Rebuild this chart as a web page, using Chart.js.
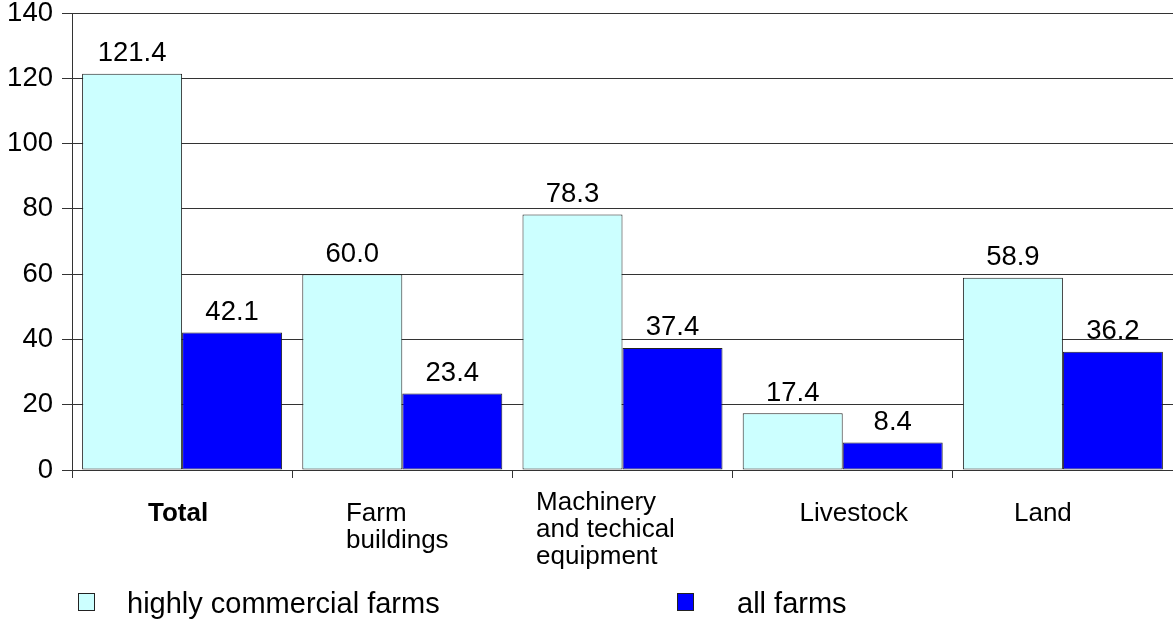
<!DOCTYPE html>
<html>
<head>
<meta charset="utf-8">
<script src="https://cdn.jsdelivr.net/npm/chart.js@4"></script>
<style>
html,body{margin:0;padding:0;background:#fff}
</style>
</head>
<body>
<canvas id="chart" width="1173" height="622"></canvas>
<script>
const categories = [['Total'], ['Farm','buildings'], ['Machinery','and techical','equipment'], ['Livestock'], ['Land']]
const highlyCommercial = [121.4, 60.0, 78.3, 17.4, 58.9]
const allFarms = [42.1, 23.4, 37.4, 8.4, 36.2]
const seriesNames = ['highly commercial farms', 'all farms']
const yMax = 140
const yStep = 20

const FONT = '"Liberation Sans", Arial, sans-serif'
// excel puts the wrapped category text a little off centre
const labelShift = [-4, -5, -17, 11, -20]
const labelLift = [0, 0, 11, 0, 0]
const legendBoxX = [78, 677]
const legendTextX = [127, 737]

const extras = {
  id: 'extras',
  afterDatasetsDraw(chart){
    const ctx = chart.ctx
    const area = chart.chartArea
    const xs = chart.scales.x
    ctx.save()
    ctx.fillStyle = '#000'
    ctx.textBaseline = 'alphabetic'

    // value labels above bars
    ctx.font = `27.5px ${FONT}`
    ctx.textAlign = 'center'
    chart.data.datasets.forEach((ds, di)=>{
      chart.getDatasetMeta(di).data.forEach((bar, i)=>{
        ctx.fillText(ds.data[i].toFixed(1), bar.x, bar.y - 12.5)
      })
    })

    // category labels (lines left aligned in a block)
    ctx.textAlign = 'left'
    categories.forEach((lines, i)=>{
      ctx.font = (i === 0 ? 'bold ' : '') + `26px ${FONT}`
      const w = Math.max(...lines.map(l=>ctx.measureText(l).width))
      const left = xs.getPixelForValue(i) - w/2 + labelShift[i]
      lines.forEach((l, j)=>{
        ctx.fillText(l, left, area.bottom + 51 - labelLift[i] + j*27)
      })
    })

    // legend
    ctx.font = `29px ${FONT}`
    chart.data.datasets.forEach((ds, di)=>{
      const by = chart.height - 29
      ctx.fillStyle = ds.backgroundColor
      ctx.fillRect(legendBoxX[di], by, 17, 18)
      ctx.strokeStyle = '#222'
      ctx.lineWidth = 1
      ctx.strokeRect(legendBoxX[di] + 0.5, by + 0.5, 16, 17)
      ctx.fillStyle = '#000'
      ctx.fillText(ds.label, legendTextX[di], chart.height - 9)
    })
    ctx.restore()
  }
}

new Chart(document.getElementById('chart').getContext('2d'), {
  type: 'bar',
  data: {
    labels: categories,
    datasets: [
      {label: seriesNames[0], data: highlyCommercial, backgroundColor: '#CCFFFF', borderColor: '#222', borderWidth: 1, borderSkipped: false},
      {label: seriesNames[1], data: allFarms, backgroundColor: '#0000FF', borderColor: '#222', borderWidth: 1, borderSkipped: false}
    ]
  },
  options: {
    responsive: false,
    animation: false,
    devicePixelRatio: 1,
    categoryPercentage: 200/220.2,
    barPercentage: 1,
    layout: {padding: {top: 13, right: 0, bottom: 0, left: 0}},
    plugins: {legend: {display: false}, tooltip: {enabled: false}},
    scales: {
      x: {
        offset: true,
        grid: {display: true, drawOnChartArea: false, offset: true, tickLength: 8, color: '#333'},
        border: {display: true, color: '#333', width: 1},
        ticks: {display: false},
        afterFit(s){ s.height = 152; s.paddingLeft = 0; s.paddingRight = 0 }
      },
      y: {
        min: 0,
        max: yMax,
        ticks: {stepSize: yStep, color: '#000', font: {family: FONT, size: 27.5}, padding: 9},
        grid: {color: '#333', tickLength: 10},
        border: {display: true, color: '#333', width: 1},
        afterFit(s){ s.width = 72; s.paddingTop = 0; s.paddingBottom = 0 }
      }
    }
  },
  plugins: [extras]
})
</script>
</body>
</html>
